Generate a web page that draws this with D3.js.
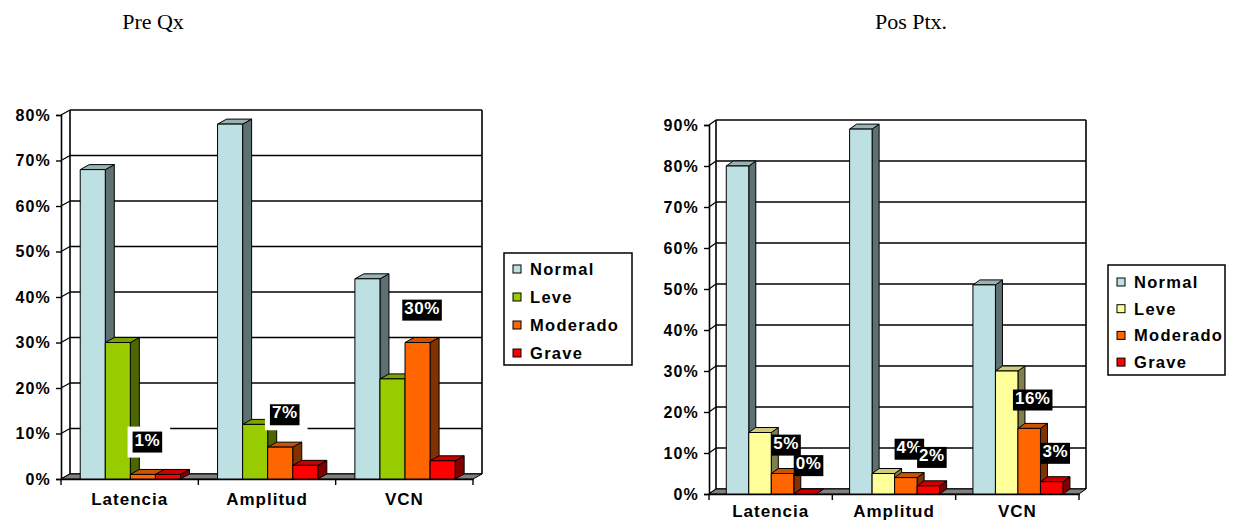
<!DOCTYPE html>
<html>
<head>
<meta charset="utf-8">
<script src="https://cdn.jsdelivr.net/npm/d3@7"></script>
<style>
  body { margin: 0; background: #fff; }
  svg { display: block; font-family: "Liberation Sans", Arial, sans-serif; }
</style>
</head>
<body>
<svg id="chart" width="1242" height="522"></svg>
<script>
// data
const categories = ['Latencia', 'Amplitud', 'VCN'];
const seriesNames = ['Normal', 'Leve', 'Moderado', 'Grave'];

const preNormal = [68, 78, 44];
const preLeve = [30, 12, 22];
const preModerado = [1, 7, 30];
const preGrave = [1, 3, 4];
const preTicks = [0, 10, 20, 30, 40, 50, 60, 70, 80];
const preLabelled = ['Moderado'];

const posNormal = [80, 89, 51];
const posLeve = [15, 5, 30];
const posModerado = [5, 4, 16];
const posGrave = [0, 2, 3];
const posTicks = [0, 10, 20, 30, 40, 50, 60, 70, 80, 90];
const posLabelled = ['Moderado', 'Grave'];

class Bar3DChart {

  constructor(_config, _series) {
    this.config = _config;
    this.series = _series;
    this.initVis();
  }

  initVis() {
    let vis = this;
    const c = vis.config;

    vis.svg = d3.select('#chart');
    vis.g = vis.svg.append('g');

    vis.yScale = d3.scaleLinear()
        .domain([0, d3.max(c.ticks)])
        .range([c.floorY, c.topY]);

    vis.xScale = d3.scaleBand()
        .domain(categories)
        .range([c.left, c.right]);

    const bw = vis.xScale.bandwidth();
    vis.sScale = d3.scaleBand()
        .domain(seriesNames)
        .range([bw * 0.14, bw * 0.87]);

    vis.colorScale = d3.scaleOrdinal()
        .domain(seriesNames)
        .range(c.colors);

    vis.renderVis();
  }

  shade(col, k) {
    const r = d3.rgb(col);
    return d3.rgb(r.r * k, r.g * k, r.b * k).formatHex();
  }

  renderVis() {
    let vis = this;
    const c = vis.config;
    const dx = c.depthX, dy = c.depthY;
    const y = vis.yScale;
    const y0 = y(0), yMax = y(d3.max(c.ticks));

    // back wall gridlines + side wall diagonals
    const grid = vis.g.append('g');
    c.ticks.forEach(t => {
      grid.append('line')
          .attr('x1', c.left + dx).attr('x2', c.right + dx)
          .attr('y1', y(t) - dy).attr('y2', y(t) - dy)
          .attr('stroke', '#000').attr('stroke-width', 1.6);
      grid.append('line')
          .attr('x1', c.left).attr('x2', c.left + dx)
          .attr('y1', y(t)).attr('y2', y(t) - dy)
          .attr('stroke', '#000').attr('stroke-width', 1.3);
    });
    grid.append('line')
        .attr('x1', c.left + dx).attr('x2', c.left + dx)
        .attr('y1', yMax - dy).attr('y2', y0 - dy)
        .attr('stroke', '#000').attr('stroke-width', 1.6);
    grid.append('line')
        .attr('x1', c.right + dx).attr('x2', c.right + dx)
        .attr('y1', yMax - dy).attr('y2', y0 - dy)
        .attr('stroke', '#000').attr('stroke-width', 1.6);

    // floor
    vis.g.append('path')
        .attr('d', `M${c.left},${y0}L${c.right},${y0}L${c.right + dx},${y0 - dy}L${c.left + dx},${y0 - dy}Z`)
        .attr('fill', '#808080').attr('stroke', '#000').attr('stroke-width', 1);

    // front axes
    const yAxis = d3.axisLeft(y).tickValues(c.ticks).tickFormat(d => d + '%').tickSize(5).tickPadding(5);
    const yAxisG = vis.g.append('g')
        .attr('transform', `translate(${c.left},0)`)
        .call(yAxis);
    yAxisG.selectAll('text')
        .attr('font-size', 16).attr('font-weight', 'bold')
        .attr('letter-spacing', 1.2).attr('fill', '#000');
    yAxisG.selectAll('.tick line').attr('stroke-width', 1.4);

    const xAxis = d3.axisBottom(vis.xScale).tickSize(0).tickPadding(c.catPad);
    const xAxisG = vis.g.append('g')
        .attr('transform', `translate(0,${y0})`)
        .call(xAxis);
    xAxisG.select('.domain').attr('stroke-width', 1.6);
    yAxisG.select('.domain').attr('stroke-width', 1.6);
    xAxisG.selectAll('text')
        .attr('font-size', 17).attr('font-weight', 'bold')
        .attr('letter-spacing', 1).attr('fill', '#000');
    // category boundary ticks
    const bounds = categories.map(d => vis.xScale(d)).concat([c.right]);
    xAxisG.selectAll('.bound').data(bounds).join('line')
        .attr('class', 'bound')
        .attr('x1', d => d).attr('x2', d => d)
        .attr('y1', 0).attr('y2', 6)
        .attr('stroke', '#000').attr('stroke-width', 1.4);

    // bars
    const bars = vis.g.append('g');
    const bw = vis.sScale.bandwidth();
    categories.forEach((cat, i) => {
      seriesNames.forEach(s => {
        const v = vis.series[s][i];
        const x = vis.xScale(cat) + vis.sScale(s);
        const yt = y(v);
        const col = vis.colorScale(s);
        const bar = bars.append('g');
        bar.append('path')
            .attr('d', `M${x + bw},${y0}L${x + bw + dx},${y0 - dy}L${x + bw + dx},${yt - dy}L${x + bw},${yt}Z`)
            .attr('fill', vis.shade(col, 0.5));
        bar.append('path')
            .attr('d', `M${x},${yt}L${x + dx},${yt - dy}L${x + bw + dx},${yt - dy}L${x + bw},${yt}Z`)
            .attr('fill', vis.shade(col, 0.8));
        bar.append('rect')
            .attr('x', x).attr('y', yt)
            .attr('width', bw).attr('height', y0 - yt)
            .attr('fill', col);
        bar.selectAll('path, rect')
            .attr('stroke', '#000').attr('stroke-width', 1).attr('stroke-linejoin', 'round');
      });
    });

    // value labels
    const labels = vis.g.append('g');
    categories.forEach((cat, i) => {
      c.labelled.forEach(s => {
        const v = vis.series[s][i];
        const cx = vis.xScale(cat) + vis.sScale(s) + bw / 2 + dx / 2;
        const cy = y(v) - c.labelLift;
        const lg = labels.append('g');
        const halo = lg.append('rect').attr('fill', '#fff');
        const box = lg.append('rect').attr('fill', '#000');
        const txt = lg.append('text')
            .attr('x', cx).attr('y', cy)
            .attr('text-anchor', 'middle').attr('dy', '0.36em')
            .attr('font-size', 17).attr('font-weight', 'bold')
            .attr('letter-spacing', 0.5)
            .attr('fill', '#fff')
            .text(v + '%');
        const bb = txt.node().getBBox();
        box.attr('x', bb.x - 2).attr('y', bb.y + 1).attr('width', bb.width + 4).attr('height', bb.height + 2);
        if (c.halo) {
          halo.attr('x', bb.x - 7).attr('y', bb.y - 4).attr('width', bb.width + 17).attr('height', bb.height + 12);
        }
      });
    });

    // title
    vis.g.append('text')
        .attr('x', c.titleX).attr('y', 29)
        .attr('text-anchor', 'middle')
        .attr('font-family', '"Liberation Serif", "Times New Roman", serif')
        .attr('font-size', 22)
        .text(c.title);

    // legend
    const leg = vis.g.append('g').attr('transform', `translate(${c.legend.x},${c.legend.y})`);
    leg.append('rect')
        .attr('width', c.legend.w).attr('height', c.legend.h)
        .attr('fill', '#fff').attr('stroke', '#000').attr('stroke-width', 1.5);
    seriesNames.forEach((s, k) => {
      const ly = c.legend.first + k * c.legend.step;
      leg.append('rect')
          .attr('x', c.legend.mx).attr('y', ly - 4)
          .attr('width', 8).attr('height', 8)
          .attr('fill', vis.colorScale(s)).attr('stroke', '#000').attr('stroke-width', 1);
      leg.append('text')
          .attr('x', c.legend.mx + 17).attr('y', ly)
          .attr('dy', '0.36em')
          .attr('font-size', 16.5).attr('font-weight', 'bold')
          .attr('letter-spacing', 1.3)
          .text(s);
    });
  }
}

new Bar3DChart({
  title: 'Pre Qx', titleX: 153,
  left: 61, right: 473, floorY: 479, topY: 115,
  depthX: 9, depthY: 5, catPad: 14,
  ticks: preTicks,
  colors: ['#bde0e3', '#99cc00', '#ff6600', '#ff0000'],
  labelled: preLabelled, labelLift: 35, halo: true,
  legend: {x: 504, y: 253, w: 128, h: 112, mx: 9, first: 16, step: 28}
}, {Normal: preNormal, Leve: preLeve, Moderado: preModerado, Grave: preGrave});

new Bar3DChart({
  title: 'Pos Ptx.', titleX: 911,
  left: 709, right: 1079, floorY: 494, topY: 125,
  depthX: 7, depthY: 5, catPad: 11,
  ticks: posTicks,
  colors: ['#bde0e3', '#ffff99', '#ff6600', '#ff0000'],
  labelled: posLabelled, labelLift: 31, halo: false,
  legend: {x: 1108, y: 265, w: 117, h: 110, mx: 9, first: 17, step: 26.7}
}, {Normal: posNormal, Leve: posLeve, Moderado: posModerado, Grave: posGrave});
</script>
</body>
</html>
